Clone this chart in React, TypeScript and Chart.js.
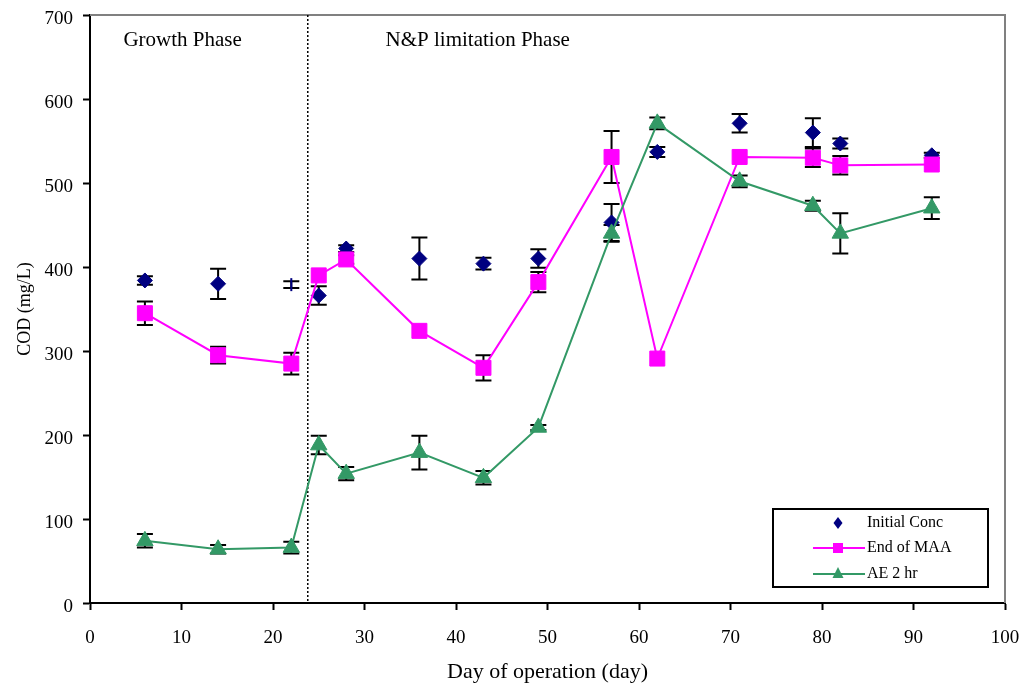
import React, { useEffect, useRef } from "react";
import { Chart, registerables } from "chart.js";

Chart.register(...registerables);

// ---------- data ----------
const days = [6, 14, 22, 25, 28, 36, 43, 49, 57, 62, 71, 79, 82, 92];

const initialConc = [384, 380, 379, 366, 422, 410, 404, 410, 453, 537, 571, 560, 547, 533];
const initialConcErr = [5, 18, 4, 11, 4, 25, 7, 11, 22, 6, 11, 17, 6, 3];

const endOfMAA = [345, 295, 285, 390, 409, 324, 280, 382, 531, 291, 531, 530, 521, 522];
const endOfMAAErr = [14, 10, 13, 0, 5, 0, 15, 12, 31, 0, 0, 11, 11, 0];

const ae2hr = [74, 64, 66, 188, 154, 179, 149, 209, 440, 571, 502, 473, 440, 470];
const ae2hrErr = [8, 5, 7, 11, 8, 20, 8, 3, 10, 7, 7, 6, 24, 13];

const xTicks = [0, 10, 20, 30, 40, 50, 60, 70, 80, 90, 100];
const yTicks = [0, 100, 200, 300, 400, 500, 600, 700];

const phaseBoundaryDay = 23.8;
const phaseLabels = [
  { text: "Growth Phase", x: 3.65, y: 663 },
  { text: "N&P limitation Phase", x: 32.3, y: 663 },
];
const seriesNames = ["Initial Conc", "End of MAA", "AE 2 hr"];

// ---------- styles ----------
const FONT = "'Liberation Serif', 'Times New Roman', serif";
const NAVY = "#000080";
const MAGENTA = "#FF00FF";
const GREEN = "#339966";

export default function App() {
  const ref = useRef<HTMLCanvasElement>(null);

  useEffect(() => {
    document.body.style.margin = "0";
    const canvas = ref.current;
    if (!canvas) return;

    const errSets: [number[], number[]][] = [
      [initialConc, initialConcErr],
      [endOfMAA, endOfMAAErr],
      [ae2hr, ae2hrErr],
    ];

    const underlay = {
      id: "underlay",
      beforeDatasetsDraw(chart: any) {
        const { ctx, chartArea: ca } = chart;
        const xs = chart.scales.x;
        const ys = chart.scales.y;
        ctx.save();
        // gray top/right frame
        ctx.strokeStyle = "#808080";
        ctx.lineWidth = 2;
        ctx.beginPath();
        ctx.moveTo(ca.left, ca.top);
        ctx.lineTo(ca.right, ca.top);
        ctx.lineTo(ca.right, ca.bottom);
        ctx.stroke();
        // phase boundary
        const bx = xs.getPixelForValue(phaseBoundaryDay);
        ctx.strokeStyle = "#000";
        ctx.lineWidth = 1.5;
        ctx.setLineDash([2, 2]);
        ctx.beginPath();
        ctx.moveTo(bx, ca.top);
        ctx.lineTo(bx, ca.bottom);
        ctx.stroke();
        ctx.setLineDash([]);
        // phase labels
        ctx.fillStyle = "#000";
        ctx.font = `21px ${FONT}`;
        ctx.textAlign = "left";
        ctx.textBaseline = "alphabetic";
        phaseLabels.forEach((p) => {
          ctx.fillText(p.text, xs.getPixelForValue(p.x), ys.getPixelForValue(p.y));
        });
        // error bars
        ctx.strokeStyle = "#000";
        ctx.lineWidth = 2;
        errSets.forEach(([vals, errs]) => {
          vals.forEach((v, i) => {
            const e = errs[i];
            if (!e) return;
            const px = xs.getPixelForValue(days[i]);
            const top = ys.getPixelForValue(v + e);
            const bot = ys.getPixelForValue(v - e);
            ctx.beginPath();
            ctx.moveTo(px, top);
            ctx.lineTo(px, bot);
            ctx.moveTo(px - 8, top);
            ctx.lineTo(px + 8, top);
            ctx.moveTo(px - 8, bot);
            ctx.lineTo(px + 8, bot);
            ctx.stroke();
          });
        });
        ctx.restore();
      },
    };

    const legendBox = {
      id: "legendBox",
      afterDraw(chart: any) {
        const { ctx, chartArea: ca } = chart;
        const L = ca.right - 232;
        const T = ca.bottom - 94;
        ctx.save();
        ctx.fillStyle = "#fff";
        ctx.fillRect(L, T, 215, 78);
        ctx.strokeStyle = "#000";
        ctx.lineWidth = 2;
        ctx.strokeRect(L, T, 215, 78);
        const cx = L + 65;
        const rows = [T + 14, T + 39, T + 65];
        // row 1: diamond
        ctx.fillStyle = NAVY;
        ctx.beginPath();
        ctx.moveTo(cx, rows[0] - 6);
        ctx.lineTo(cx + 4.5, rows[0]);
        ctx.lineTo(cx, rows[0] + 6);
        ctx.lineTo(cx - 4.5, rows[0]);
        ctx.closePath();
        ctx.fill();
        // row 2: line + square
        ctx.strokeStyle = MAGENTA;
        ctx.lineWidth = 2;
        ctx.beginPath();
        ctx.moveTo(L + 40, rows[1]);
        ctx.lineTo(L + 92, rows[1]);
        ctx.stroke();
        ctx.fillStyle = MAGENTA;
        ctx.fillRect(cx - 5, rows[1] - 5, 10, 10);
        // row 3: line + triangle
        ctx.strokeStyle = GREEN;
        ctx.beginPath();
        ctx.moveTo(L + 40, rows[2]);
        ctx.lineTo(L + 92, rows[2]);
        ctx.stroke();
        ctx.fillStyle = GREEN;
        ctx.beginPath();
        ctx.moveTo(cx, rows[2] - 7);
        ctx.lineTo(cx + 5.5, rows[2] + 4);
        ctx.lineTo(cx - 5.5, rows[2] + 4);
        ctx.closePath();
        ctx.fill();
        // labels
        ctx.fillStyle = "#000";
        ctx.font = `16px ${FONT}`;
        ctx.textAlign = "left";
        ctx.textBaseline = "middle";
        seriesNames.forEach((n, i) => ctx.fillText(n, L + 94, rows[i]));
        ctx.restore();
      },
    };

    const tickFont = { family: FONT, size: 19 };
    const chart = new Chart(canvas, {
      type: "line",
      data: {
        datasets: [
          {
            label: seriesNames[0],
            data: days.map((d, i) => ({ x: d, y: initialConc[i] })),
            showLine: false,
            pointStyle: days.map((_, i) => (i === 2 ? "line" : "rectRot")) as any,
            pointRotation: days.map((_, i) => (i === 2 ? 90 : 0)) as any,
            pointRadius: days.map((_, i) => (i === 2 ? 6.5 : 7.5)) as any,
            pointBorderWidth: days.map((_, i) => (i === 2 ? 2 : 1)) as any,
            backgroundColor: NAVY,
            borderColor: NAVY,
            order: 3,
          },
          {
            label: seriesNames[1],
            data: days.map((d, i) => ({ x: d, y: endOfMAA[i] })),
            borderColor: MAGENTA,
            backgroundColor: MAGENTA,
            borderWidth: 2,
            pointStyle: "rect",
            pointRadius: 10.6,
            pointBorderWidth: 1,
            tension: 0,
            order: 2,
          },
          {
            label: seriesNames[2],
            data: days.map((d, i) => ({ x: d, y: ae2hr[i] })),
            borderColor: GREEN,
            backgroundColor: GREEN,
            borderWidth: 2,
            pointStyle: "triangle",
            pointRadius: 9.5,
            pointBorderWidth: 1,
            tension: 0,
            order: 1,
          },
        ],
      },
      options: {
        animation: false,
        responsive: true,
        maintainAspectRatio: false,
        layout: { padding: { top: 15, right: 25, left: 0, bottom: 0 } },
        plugins: { legend: { display: false }, tooltip: { enabled: false } },
        scales: {
          x: {
            type: "linear",
            min: 0,
            max: 100,
            afterBuildTicks: (s: any) => {
              s.ticks = xTicks.map((v) => ({ value: v }));
            },
            afterFit: (s: any) => {
              s.height = 90;
              s.paddingLeft = 0;
              s.paddingRight = 0;
            },
            ticks: { font: tickFont, color: "#000", padding: 17, maxRotation: 0 },
            grid: {
              display: true,
              drawOnChartArea: false,
              drawTicks: true,
              tickLength: 7,
              tickWidth: 2,
              tickColor: "#000",
            },
            border: { display: true, color: "#000", width: 2 },
            title: {
              display: true,
              text: "Day of operation (day)",
              font: { family: FONT, size: 22 },
              color: "#000",
              padding: { top: 0, bottom: 8 },
            },
          },
          y: {
            type: "linear",
            min: 0,
            max: 700,
            afterBuildTicks: (s: any) => {
              s.ticks = yTicks.map((v) => ({ value: v }));
            },
            afterFit: (s: any) => {
              s.width = 90;
              s.paddingTop = 0;
              s.paddingBottom = 0;
            },
            ticks: { font: tickFont, color: "#000", padding: 10, labelOffset: 4 },
            grid: {
              display: true,
              drawOnChartArea: false,
              drawTicks: true,
              tickLength: 7,
              tickWidth: 2,
              tickColor: "#000",
            },
            border: { display: true, color: "#000", width: 2 },
            title: {
              display: true,
              text: "COD (mg/L)",
              font: { family: FONT, size: 18 },
              color: "#000",
              padding: { top: 14, bottom: 0 },
            },
          },
        },
      },
      plugins: [underlay, legendBox],
    } as any);

    return () => chart.destroy();
  }, []);

  return (
    <div style={{ position: "relative", width: 1030, height: 693 }}>
      <canvas ref={ref} />
    </div>
  );
}
